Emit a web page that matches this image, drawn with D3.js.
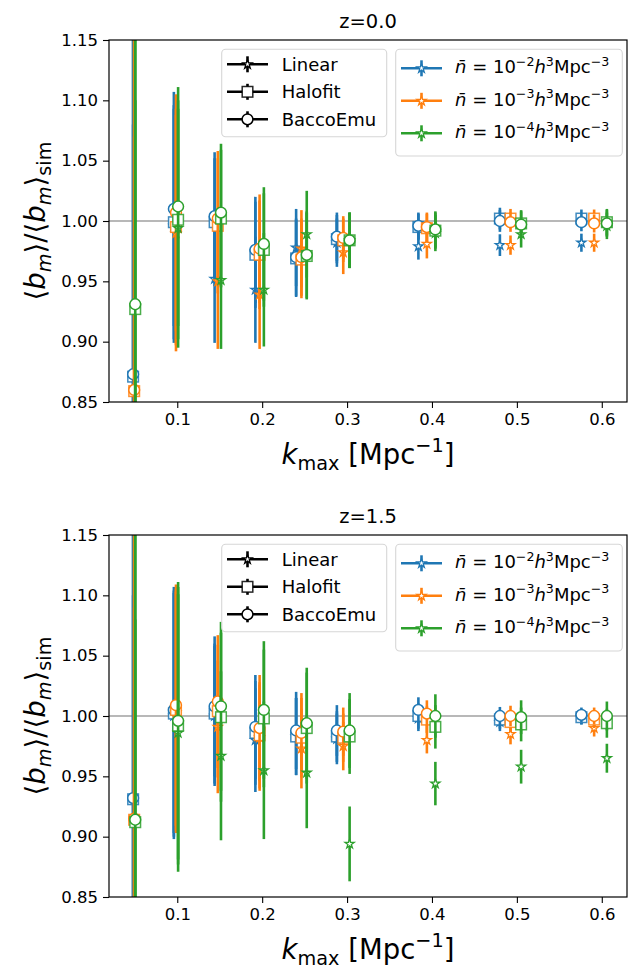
<!DOCTYPE html>
<html>
<head>
<meta charset="utf-8">
<script src="https://cdn.jsdelivr.net/npm/d3@7"></script>
<style>
body { margin: 0; background: #fff; }
text { font-family: "DejaVu Sans", sans-serif; }
</style>
</head>
<body>
<div id="canvas"></div>
<script>
// k_max values
var kVals = [0.05, 0.1, 0.15, 0.2, 0.25, 0.3, 0.4, 0.5, 0.6];
var nbarExp = ["-2", "-3", "-4"];
var colors = ["#1f77b4", "#ff7f0e", "#2ca02c"];
var xShift = [0.96, 0.985, 1.01];   // small horizontal offsets per nbar
var yTicks = [0.85, 0.90, 0.95, 1.00, 1.05, 1.10, 1.15];
var xTicks = [0.1, 0.2, 0.3, 0.4, 0.5, 0.6];
var models = ["Linear", "Halofit", "BaccoEmu"];
var titles = ["z=0.0", "z=1.5"];

// z=0.0  (rows: nbar 1e-2, 1e-3, 1e-4)
var z0Linear = [
  [0.78, 0.996, 0.952, 0.943, 0.978, 0.982, 0.979, 0.980, 0.982],
  [0.77, 0.990, 0.950, 0.939, 0.977, 0.974, 0.981, 0.980, 0.982],
  [0.80, 0.994, 0.951, 0.943, 0.989, 0.984, 0.990, 0.989, 0.996]];
var z0Halofit = [
  [0.871, 0.999, 0.999, 0.972, 0.969, 0.985, 0.995, 1.002, 1.002],
  [0.859, 0.995, 0.996, 0.972, 0.968, 0.984, 0.994, 1.002, 1.002],
  [0.927, 1.001, 1.002, 0.976, 0.971, 0.984, 0.992, 0.998, 0.999]];
var z0Bacco = [
  [0.873, 1.010, 1.004, 0.976, 0.970, 0.987, 0.996, 1.000, 0.999],
  [0.860, 1.007, 1.002, 0.977, 0.970, 0.986, 0.995, 0.999, 0.998],
  [0.931, 1.012, 1.007, 0.981, 0.972, 0.984, 0.993, 0.997, 0.998]];
var z0Err = [
  [0.30, 0.097, 0.053, 0.044, 0.032, 0.020, 0.011, 0.009, 0.0075],
  [0.30, 0.098, 0.056, 0.045, 0.032, 0.018, 0.012, 0.008, 0.0075],
  [0.30, 0.099, 0.057, 0.047, 0.036, 0.023, 0.015, 0.011, 0.011]];

// z=1.5
var z15Linear = [
  [0.80, 1.000, 1.000, 0.980, 0.983, 0.981, 0.998, 0.995, 0.999],
  [0.79, 1.003, 0.991, 0.982, 0.973, 0.975, 0.980, 0.985, 0.990],
  [0.78, 0.986, 0.967, 0.955, 0.953, 0.894, 0.944, 0.958, 0.965]];
var z15Halofit = [
  [0.931, 1.002, 1.002, 0.986, 0.983, 0.983, 1.000, 0.997, 0.999],
  [0.914, 1.005, 1.004, 0.984, 0.982, 0.982, 0.997, 0.995, 0.997],
  [0.912, 0.992, 0.999, 0.998, 0.990, 0.983, 0.991, 0.993, 0.994]];
var z15Bacco = [
  [0.932, 1.005, 1.008, 0.991, 0.988, 0.988, 1.005, 1.000, 1.001],
  [0.915, 1.009, 1.012, 0.990, 0.986, 0.987, 1.002, 1.000, 1.000],
  [0.914, 0.996, 1.008, 1.005, 0.994, 0.988, 1.000, 0.999, 1.000]];
var z15Err = [
  [0.30, 0.102, 0.058, 0.043, 0.032, 0.021, 0.0105, 0.0075, 0.006],
  [0.30, 0.100, 0.055, 0.044, 0.033, 0.020, 0.011, 0.0085, 0.007],
  [0.30, 0.115, 0.070, 0.057, 0.046, 0.031, 0.018, 0.014, 0.012]];

var width = 629, height = 970;
var left = 109, right = 627;
var panelTop = [40, 535], panelH = 362;

var svg = d3.select("#canvas").append("svg")
  .attr("width", width).attr("height", height);

var x = d3.scaleLinear().domain([0.0196, 0.6297]).range([left, right]);

function starPath(R) {
  var r = R * 0.382, pts = [];
  for (var i = 0; i < 10; i++) {
    var a = -Math.PI / 2 + i * Math.PI / 5, rr = i % 2 ? r : R;
    pts.push([rr * Math.cos(a), rr * Math.sin(a)]);
  }
  return "M" + pts.join("L") + "Z";
}

function drawMarker(g, m, cx, cy, col) {
  if (m == 0) {
    g.append("path").attr("d", starPath(4.8))
      .attr("transform", "translate(" + cx + "," + cy + ")")
      .attr("fill", "#fff").attr("stroke", col).attr("stroke-width", 1.3);
  } else if (m == 1) {
    g.append("rect").attr("x", cx - 5.3).attr("y", cy - 5.3)
      .attr("width", 10.6).attr("height", 10.6)
      .attr("fill", "#fff").attr("stroke", col).attr("stroke-width", 1.5)
      .attr("stroke-opacity", 0.85);
  } else {
    g.append("circle").attr("cx", cx).attr("cy", cy).attr("r", 5.4)
      .attr("fill", "#fff").attr("stroke", col).attr("stroke-width", 1.5);
  }
}

// rich text: parts = [{t, i, s}] where s = "sup" | "sub"
function rich(txt, parts, fs) {
  var cur = 0;
  parts.forEach(function(p) {
    var shift = 0, size = fs;
    if (p.s == "sup") { shift = -0.42 * fs; size = 0.7 * fs; }
    if (p.s == "sub") { shift = 0.2 * fs; size = 0.7 * fs; }
    var ts = txt.append("tspan").text(p.t)
      .attr("dy", shift - cur).attr("font-size", size);
    if (p.i) ts.attr("font-style", "italic");
    cur = shift;
  });
}

function drawPanel(pi, lin, halo, bacco, err) {
  var top = panelTop[pi];
  var y = d3.scaleLinear().domain([0.85, 1.15]).range([top + panelH, top]);
  var g = svg.append("g");

  g.append("clipPath").attr("id", "clip" + pi).append("rect")
    .attr("x", left).attr("y", top).attr("width", right - left).attr("height", panelH);

  var plot = g.append("g").attr("clip-path", "url(#clip" + pi + ")");

  plot.append("line")
    .attr("x1", left).attr("x2", right).attr("y1", y(1)).attr("y2", y(1))
    .attr("stroke", "#a0a0a0").attr("stroke-width", 1.5);

  var sets = [lin, halo, bacco];
  for (var c = 0; c < 3; c++) {
    for (var m = 0; m < 3; m++) {
      for (var i = 0; i < kVals.length; i++) {
        var cx = x(kVals[i] * xShift[c]);
        var v = sets[m][c][i], e = err[c][i];
        plot.append("line")
          .attr("x1", cx).attr("x2", cx)
          .attr("y1", y(v - e)).attr("y2", y(v + e))
          .attr("stroke", colors[c]).attr("stroke-width", 2.6);
        drawMarker(plot, m, cx, y(v), colors[c]);
      }
    }
  }

  // axes
  var xAxis = d3.axisBottom(x).tickValues(xTicks).tickSize(6).tickPadding(5)
    .tickFormat(d3.format(".1f"));
  var gx = g.append("g").attr("transform", "translate(0," + (top + panelH) + ")").call(xAxis);
  var yAxis = d3.axisLeft(y).tickValues(yTicks).tickSize(6).tickPadding(5)
    .tickFormat(d3.format(".2f"));
  var gy = g.append("g").attr("transform", "translate(" + left + ",0)").call(yAxis);
  [gx, gy].forEach(function(a) {
    a.select(".domain").remove();
    a.selectAll("line").attr("stroke", "#000").attr("stroke-width", 1.1);
    a.selectAll("text").attr("font-size", 16.5).attr("fill", "#000")
      .style("font-family", "DejaVu Sans");
  });
  g.append("rect").attr("x", left).attr("y", top).attr("width", right - left)
    .attr("height", panelH).attr("fill", "none").attr("stroke", "#000").attr("stroke-width", 1.2);

  // title
  g.append("text").attr("x", (left + right) / 2).attr("y", top - 11.7)
    .attr("text-anchor", "middle").attr("font-size", 19.5).text(titles[pi]);

  // x label
  var xl = g.append("text").attr("x", (left + right) / 2).attr("y", top + panelH + 62)
    .attr("text-anchor", "middle");
  rich(xl, [{t: "k", i: true}, {t: "max", s: "sub"}, {t: " [Mpc"}, {t: "\u22121", s: "sup"}, {t: "]"}], 27.5);

  // y label
  var yl = g.append("text")
    .attr("transform", "translate(45," + (top + panelH / 2) + ") rotate(-90)")
    .attr("text-anchor", "middle");
  rich(yl, [{t: "\u27e8"}, {t: "b", i: true}, {t: "m", i: true, s: "sub"}, {t: "\u27e9/\u27e8"},
            {t: "b", i: true}, {t: "m", i: true, s: "sub"}, {t: "\u27e9"}, {t: "sim", s: "sub"}], 27.5);

  // legend 1 (models)
  var l1 = g.append("g");
  l1.append("rect").attr("x", 221.7).attr("y", top + 9.3).attr("width", 165).attr("height", 87.4)
    .attr("rx", 4).attr("fill", "#fff").attr("fill-opacity", 0.8)
    .attr("stroke", "#d6d6d6").attr("stroke-width", 1.1);
  models.forEach(function(name, m) {
    var ry = top + 24.3 + m * 27.5;
    l1.append("line").attr("x1", 227).attr("x2", 268).attr("y1", ry).attr("y2", ry)
      .attr("stroke", "#000").attr("stroke-width", 2.6);
    l1.append("line").attr("x1", 247.5).attr("x2", 247.5).attr("y1", ry - 8).attr("y2", ry + 8)
      .attr("stroke", "#000").attr("stroke-width", 2.6);
    drawMarker(l1, m, 247.5, ry, "#000");
    l1.append("text").attr("x", 281.7).attr("y", ry + 6.4).attr("font-size", 18).text(name);
  });

  // legend 2 (number density)
  var l2 = g.append("g");
  l2.append("rect").attr("x", 395.7).attr("y", top + 9.3).attr("width", 226.6).attr("height", 106.7)
    .attr("rx", 4).attr("fill", "#fff").attr("fill-opacity", 0.8)
    .attr("stroke", "#d6d6d6").attr("stroke-width", 1.1);
  nbarExp.forEach(function(ex, c) {
    var ry = top + 28.3 + c * 32.5;
    l2.append("line").attr("x1", 401).attr("x2", 442).attr("y1", ry).attr("y2", ry)
      .attr("stroke", colors[c]).attr("stroke-width", 2.6);
    l2.append("line").attr("x1", 421.5).attr("x2", 421.5).attr("y1", ry - 8).attr("y2", ry + 8)
      .attr("stroke", colors[c]).attr("stroke-width", 2.6);
    drawMarker(l2, 0, 421.5, ry, colors[c]);
    var t = l2.append("text").attr("x", 455).attr("y", ry + 5);
    rich(t, [{t: "n\u0304", i: true}, {t: " = 10"}, {t: "\u2212" + ex.slice(1), s: "sup"},
             {t: "h", i: true}, {t: "3", s: "sup"}, {t: "Mpc"}, {t: "\u22123", s: "sup"}], 18);
  });
}

drawPanel(0, z0Linear, z0Halofit, z0Bacco, z0Err);
drawPanel(1, z15Linear, z15Halofit, z15Bacco, z15Err);
</script>
</body>
</html>
